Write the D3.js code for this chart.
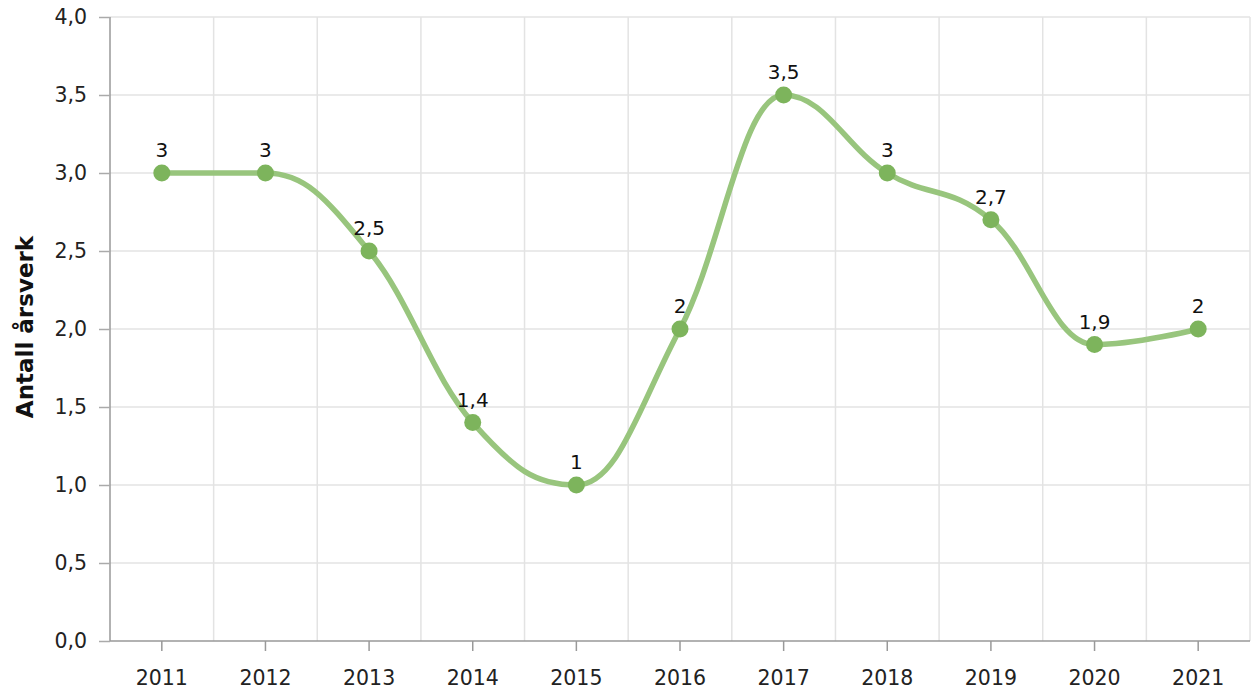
<!DOCTYPE html>
<html><head><meta charset="utf-8">
<script src="https://cdn.jsdelivr.net/npm/d3@7"></script>
<style>body{margin:0;background:#fff}svg{display:block;font-family:"DejaVu Sans",Verdana,sans-serif}</style>
</head><body><svg id="c" width="1253" height="693"></svg>
<script>
const years = ["2011","2012","2013","2014","2015","2016","2017","2018","2019","2020","2021"];
const values = [3, 3, 2.5, 1.4, 1, 2, 3.5, 3, 2.7, 1.9, 2];
const yTicks = [0,0.5,1,1.5,2,2.5,3,3.5,4];
const yTitle = "Antall årsverk";

const svg = d3.select("#c");
const L=110, R=1250, T=17, B=641;
const x = d3.scaleBand().domain(years).range([L,R]);
const y = d3.scaleLinear().domain([0,4]).range([B,T]);
const fmt = v => d3.format(".1f")(v).replace(".",",");
const lab = v => String(v).replace(".",",");

svg.append("g").selectAll("line").data(yTicks.slice(1)).join("line")
  .attr("x1",L).attr("x2",R).attr("y1",d=>y(d)).attr("y2",d=>y(d))
  .attr("stroke","#e3e3e3").attr("stroke-width",1.5);
const bounds = years.slice(1).map(d=>x(d)).concat([R]);
svg.append("g").selectAll("line").data(bounds).join("line")
  .attr("x1",d=>d).attr("x2",d=>d).attr("y1",T).attr("y2",B)
  .attr("stroke","#e3e3e3").attr("stroke-width",1.5);

const ya = svg.append("g").attr("transform",`translate(${L},0)`)
  .call(d3.axisLeft(y).tickValues(yTicks).tickFormat(fmt).tickSize(11).tickPadding(12));
ya.select(".domain").attr("stroke","#999").attr("stroke-width",1.5).attr("d",`M0,${T}V${B}`);
ya.selectAll(".tick line").attr("stroke","#aaa").attr("stroke-width",1.5);
ya.selectAll("text").attr("font-size",20.5).attr("fill","#222").attr("font-family","DejaVu Sans");

const xa = svg.append("g").attr("transform",`translate(0,${B})`)
  .call(d3.axisBottom(x).tickSize(10).tickPadding(19));
xa.select(".domain").attr("stroke","#999").attr("stroke-width",1.5).attr("d",`M${L},0H${R}`);
xa.selectAll(".tick line").attr("stroke","#999").attr("stroke-width",1.5);
xa.selectAll("text").attr("font-size",20.5).attr("fill","#222").attr("font-family","DejaVu Sans");

svg.append("text").attr("transform",`translate(33,327) rotate(-90)`)
  .attr("text-anchor","middle").attr("font-weight","bold").attr("font-size",23)
  .attr("fill","#111").text(yTitle);

const cx = d=>x(d)+x.bandwidth()/2;
const pts = values.map((v,i)=>[cx(years[i]), y(v)]);

// spline (smoothing 1.5, control points clamped between neighbours)
function splinePath(p){
  const path = d3.path();
  const sm = 1.5, den = sm+1;
  const ctrl = p.map(()=>({l:null,r:null}));
  for(let i=1;i<p.length-1;i++){
    const [px,py]=p[i],[lx,ly]=p[i-1],[nx,ny]=p[i+1];
    let lcx=(sm*px+lx)/den, lcy=(sm*py+ly)/den;
    let rcx=(sm*px+nx)/den, rcy=(sm*py+ny)/den;
    const corr=((rcy-lcy)*(rcx-px))/(rcx-lcx)+py-rcy;
    lcy+=corr; rcy+=corr;
    if(lcy>ly&&lcy>py){lcy=Math.max(ly,py);rcy=2*py-lcy;}
    else if(lcy<ly&&lcy<py){lcy=Math.min(ly,py);rcy=2*py-lcy;}
    if(rcy>ny&&rcy>py){rcy=Math.max(ny,py);lcy=2*py-rcy;}
    else if(rcy<ny&&rcy<py){rcy=Math.min(ny,py);lcy=2*py-rcy;}
    ctrl[i]={l:[lcx,lcy],r:[rcx,rcy]};
  }
  path.moveTo(p[0][0],p[0][1]);
  for(let i=1;i<p.length;i++){
    const a=ctrl[i-1].r||p[i-1], b=ctrl[i].l||p[i];
    path.bezierCurveTo(a[0],a[1],b[0],b[1],p[i][0],p[i][1]);
  }
  return path.toString();
}
svg.append("path").attr("d",splinePath(pts)).attr("fill","none")
  .attr("stroke","#98c57d").attr("stroke-width",5.5).attr("stroke-linecap","round");
svg.append("g").selectAll("circle").data(values).join("circle")
  .attr("cx",(d,i)=>cx(years[i])).attr("cy",d=>y(d)).attr("r",8.5).attr("fill","#7db45c");
svg.append("g").selectAll("text").data(values).join("text")
  .attr("x",(d,i)=>cx(years[i])).attr("y",d=>y(d)-16).attr("text-anchor","middle")
  .attr("font-size",20).attr("fill","#111").text(lab);
</script></body></html>
